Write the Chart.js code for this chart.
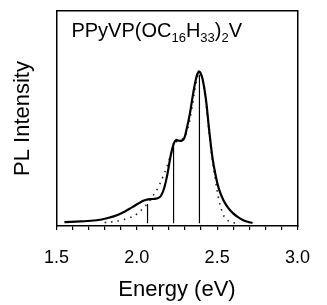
<!DOCTYPE html>
<html><head><meta charset="utf-8">
<script src="https://cdn.jsdelivr.net/npm/chart.js@4"></script>
<style>html,body{margin:0;padding:0;background:#fff;}#wrap{width:327px;height:305px;}</style>
</head><body><div id="wrap"><canvas id="c" width="327" height="305"></canvas></div>
<script>
const solidE = [1.55,1.65,1.75,1.82,1.88,1.93,1.97,2.01,2.04,2.07,2.10,2.13,2.15,2.17,2.19,2.21,2.23,2.245,2.26,2.28,2.295,2.31,2.33,2.35,2.37,2.385,2.395,2.41,2.43,2.45,2.47,2.49,2.51,2.54,2.57,2.60,2.63,2.66,2.69,2.72];
const solidI = [0.008,0.012,0.02,0.035,0.055,0.08,0.105,0.13,0.148,0.158,0.16,0.165,0.18,0.23,0.32,0.44,0.525,0.55,0.545,0.545,0.56,0.62,0.72,0.85,0.96,1.0,0.995,0.95,0.82,0.62,0.44,0.32,0.23,0.15,0.1,0.065,0.04,0.022,0.01,0.002];
const dotE = [1.80,1.85,1.90,1.95,2.00,2.04,2.07,2.10,2.13,2.16,2.19,2.21,2.23,2.25,2.28,2.31,2.34,2.37,2.39,2.41,2.43,2.45,2.47,2.49,2.51,2.53,2.55,2.58,2.62];
const dotI = [0.005,0.01,0.02,0.035,0.06,0.1,0.135,0.18,0.23,0.3,0.38,0.45,0.51,0.54,0.55,0.6,0.74,0.93,0.99,0.95,0.8,0.6,0.42,0.28,0.16,0.08,0.035,0.01,0];
const stickE = [2.067,2.229,2.39];
const stickI = [0.127,0.505,0.98];
const xTicks = ['1.5','2.0','2.5','3.0'];

const stickData = [];
stickE.forEach((e,i)=>{stickData.push({x:e,y:0});stickData.push({x:e,y:stickI[i]});stickData.push({x:e,y:null});});

const FONT = '"Liberation Sans", Arial, sans-serif';
const labelPlugin = {
  id:'inlabel',
  afterDraw(chart){
    const ctx = chart.ctx;
    const a = chart.chartArea;
    ctx.save();
    ctx.fillStyle = '#000';
    ctx.textBaseline = 'alphabetic';
    ctx.textAlign = 'left';
    let x = a.left + 15, y = a.top + 26;
    const big = '20px ' + FONT, small = '13px ' + FONT;
    const parts = [['PPyVP(OC',big,0],['16',small,5],['H',big,0],['33',small,5],[')',big,0],['2',small,5],['V',big,0]];
    parts.forEach(p => { ctx.font = p[1]; ctx.fillText(p[0], x, y + p[2]); x += ctx.measureText(p[0]).width; });
    ctx.restore();
  }
};

new Chart(document.getElementById('c'),{
  type:'line',
  data:{datasets:[
    {data:solidE.map((e,i)=>({x:e,y:solidI[i]})),borderColor:'#000',borderWidth:2.2,pointRadius:0,tension:0.4,fill:false},
    {data:dotE.map((e,i)=>({x:e,y:dotI[i]})),borderColor:'#222',borderWidth:1.6,borderDash:[1.5,5],pointRadius:0,tension:0.4,fill:false},
    {data:stickData,borderColor:'#000',borderWidth:1.2,pointRadius:0,tension:0,spanGaps:false,fill:false}
  ]},
  options:{
    responsive:false,animation:false,
    layout:{padding:{left:0,right:-14,top:11,bottom:0}},
    plugins:{legend:{display:false},tooltip:{enabled:false}},
    scales:{
      x:{type:'linear',min:1.5,max:3.0,
        border:{display:true,color:'#000',width:1.5},
        grid:{drawOnChartArea:false,drawTicks:true,tickLength:4,color:'#000',lineWidth:1.2},
        ticks:{stepSize:0.1,autoSkip:false,maxRotation:0,padding:17,color:'#000',
          font:{family:FONT,size:18},
          callback:(v)=>{const s=Math.round(v*10);return s%5===0?xTicks[(s-15)/5]:'';}},
        title:{display:true,text:'Energy (eV)',color:'#000',font:{family:FONT,size:22},padding:{top:-9,bottom:2}}
      },
      xTop:{type:'linear',position:'top',min:1.5,max:3.0,
        border:{display:true,color:'#000',width:1.5},
        grid:{display:false,drawTicks:false},
        ticks:{display:false}
      },
      y:{min:-0.018,max:1.4,
        border:{display:true,color:'#000',width:1.5},
        grid:{display:false},
        ticks:{display:false},
        title:{display:true,text:'PL Intensity',color:'#000',font:{family:FONT,size:22},padding:{top:10,bottom:12}}
      },
      yRight:{position:'right',min:-0.018,max:1.4,
        border:{display:true,color:'#000',width:1.5},
        grid:{display:false,drawTicks:false},
        ticks:{display:false}
      }
    }
  },
  plugins:[labelPlugin]
});
</script></body></html>
